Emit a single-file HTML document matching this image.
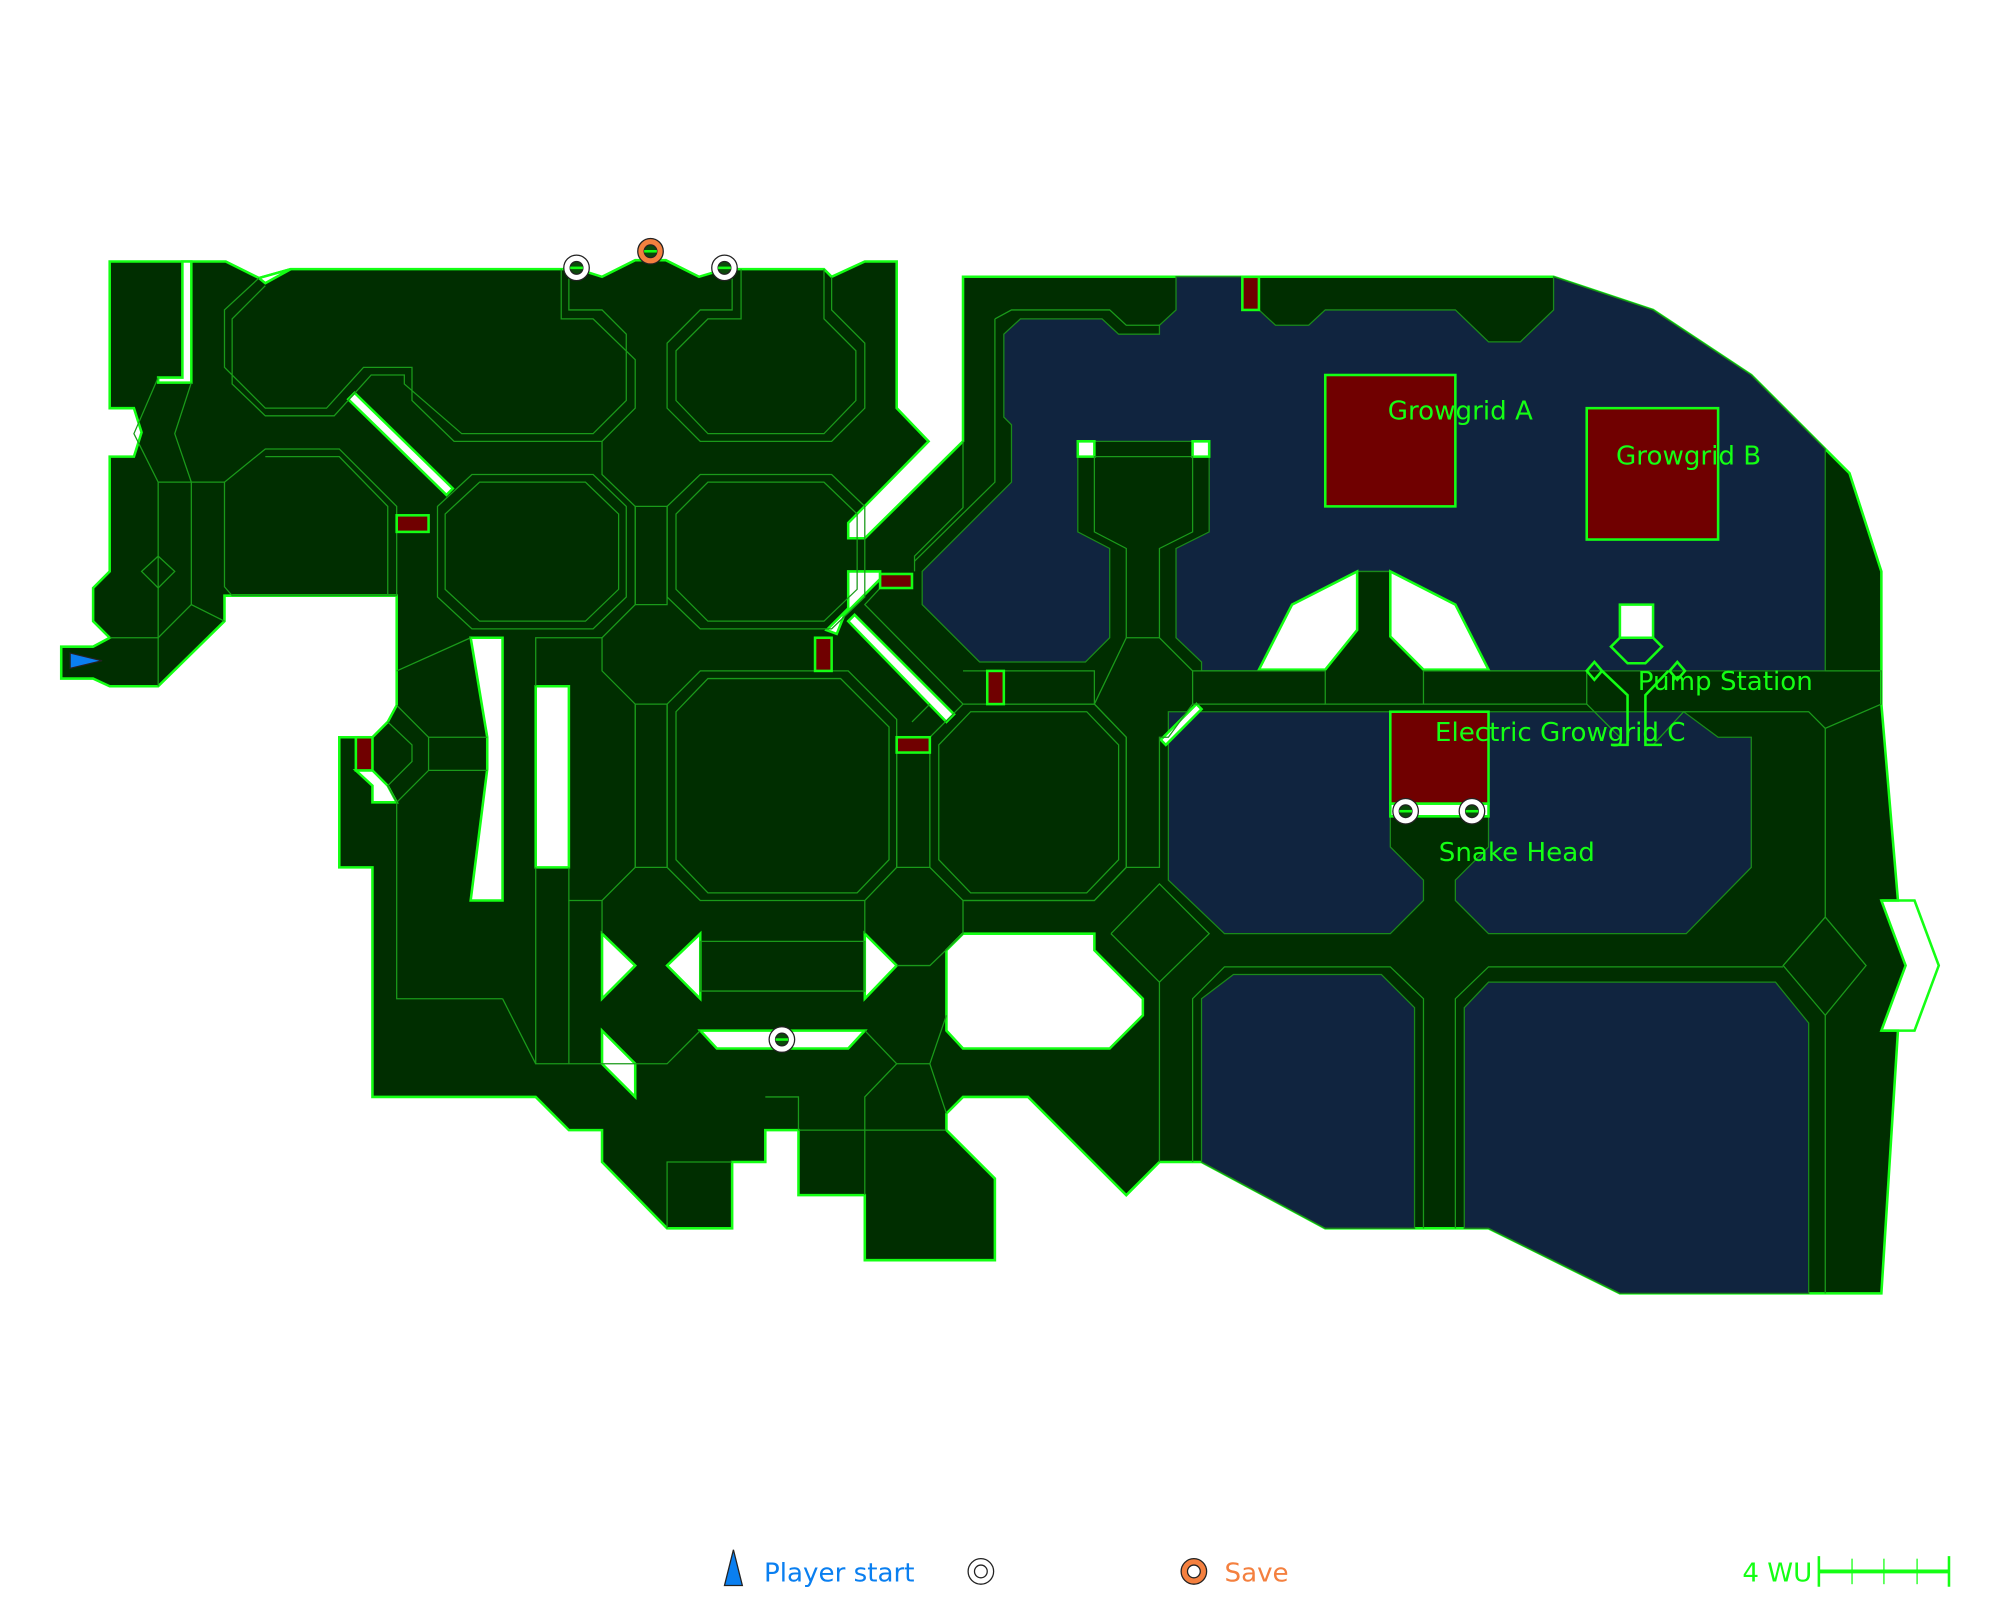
<!DOCTYPE html>
<html><head><meta charset="utf-8"><style>
html,body{margin:0;padding:0;background:#fff;width:2000px;height:1600px;overflow:hidden}
svg{display:block}
text{font-family:"DejaVu Sans","Liberation Sans",sans-serif}
</style></head><body>
<svg width="2000" height="1600" viewBox="0 0 1568 1254.4" xmlns="http://www.w3.org/2000/svg">
<g stroke-linejoin="miter">
<polygon fill="#002e00" stroke="#14ff14" stroke-width="2" points="86,205 177,205 203,218 228,211 440,211 453,211 472,217 498,204 522,204 548,217 568,211 646,211 652,217 678,205 703,205 703,320 728,346 665,410 665,422 678,422 755,346 755,217 1218,217 1296,243 1373,294 1450,371 1475,448 1475,552 1488,706 1475,706 1494,757 1475,808 1488,808 1475,1014 1270,1014 1167,963 1039,963 942,911 909,911 883,937 806,860 755,860 742,873 742,886 780,924 780,988 678,988 678,937 626,937 626,886 600,886 600,911 574,911 574,963 523,963 472,911 472,886 446,886 420,860 292,860 292,680 266,680 266,578 292,578 304,566 311,553 311,467 176,467 176,487 124,538 86,538 73,532 48,532 48,507 73,507 86,500 73,487 73,461 86,448 86,358 105,358 111,339 105,320 86,320"/>
<polyline fill="none" stroke="#14ff14" stroke-width="2" points="1475,706 1501,706 1520,757 1501,808 1475,808"/>
<g fill="#10243f" stroke="#1a8a1a" stroke-width="1">
<polygon points="922,217 974,217 974,243 987,243 1000,255 1026,255 1039,243 1141,243 1167,268 1192,268 1218,243 1218,217 1296,243 1373,294 1431,352 1431,526 1244,526 1167,526 1141,474 1090,448 1064,448 1013,474 987,526 942,526 942,519 922,500 922,430 948,417 948,346 845,346 845,417 870,430 870,500 851,519 768,519 723,474 723,448 793,378 793,333 787,327 787,262 800,250 864,250 877,262 909,262 909,255 922,243"/>
<polygon points="916,558 1320,558 1347,578 1373,578 1373,680 1322,732 1167,732 1141,706 1141,690 1167,664 1167,640 1090,640 1090,664 1116,690 1116,706 1090,732 960,732 916,690"/>
<polygon points="942,783 967,764 1083,764 1109,790 1109,963 1039,963 942,911"/>
<polygon points="1148,790 1167,770 1392,770 1418,802 1418,1014 1270,1014 1167,963 1148,963"/>
</g>
<g fill="#fff" stroke="#14ff14" stroke-width="2">
<polygon points="143,205 150,205 150,300 124,300 124,296 143,296"/>
<polygon points="273,313 278,308 355,383 350,388"/>
<polygon points="369,500 394,500 394,706 369,706 382,603 382,578"/>
<polygon points="420,538 446,538 446,680 420,680"/>
<polygon points="665,448 690,448 690,454 662,482 656,497 648,494 665,477"/>
<polygon points="665,487 670,482 748,560 742,566"/>
<polygon points="910,580 938,552 942,556 914,584"/>
<polygon points="472,732 498,757 472,783"/>
<polygon points="549,732 523,757 549,783"/>
<polygon points="678,732 703,757 678,783"/>
<polygon points="549,808 678,808 665,822 562,822"/>
<polygon points="472,808 498,834 498,860 472,834"/>
<polygon points="742,745 755,732 858,732 858,745 896,783 896,796 870,822 755,822 742,808"/>
<polygon points="279,604 292,604 304,616 311,629 292,629 292,616"/>
<polygon points="845,346 858,346 858,358 845,358"/>
<polygon points="935,346 948,346 948,358 935,358"/>
<polygon points="987,525 1013,474 1064,448 1064,494 1039,525"/>
<polygon points="1090,448 1141,474 1167,525 1116,525 1090,499"/>
<polygon points="1270,474 1296,474 1296,500 1270,500"/>
<polygon points="1090,630 1167,630 1167,640 1090,640"/>
<polygon points="203,218 208,222 228,211"/>
</g>
<g fill="none" stroke="#1a9a1a" stroke-width="1">
<polygon points="370,372 465,372 491,397 491,468 465,493 370,493 343,468 343,397"/>
<polygon points="376,378 459,378 485,403 485,462 459,487 376,487 349,462 349,403"/>
<polygon points="549,372 652,372 678,397 678,468 652,493 549,493 523,468 523,397"/>
<polygon points="555,378 646,378 672,403 672,462 646,487 555,487 530,462 530,403"/>
<polygon points="549,526 665,526 703,564 703,680 678,706 549,706 523,680 523,552"/>
<polygon points="555,532 659,532 697,570 697,674 672,700 555,700 530,674 530,558"/>
<polygon points="755,552 858,552 883,578 883,680 858,706 755,706 729,680 729,578"/>
<polygon points="761,558 852,558 877,584 877,674 852,700 761,700 736,674 736,584"/>
<polygon points="208,352 266,352 311,397 311,467 182,467 176,460 176,378"/>
<polyline points="208,358 266,358 304,397 304,467"/>
<polyline points="581,211 581,250 555,250 530,275 530,314 555,340 646,340 671,314 671,275 646,250 646,211"/>
<polyline points="574,211 574,243 549,243 523,269 523,320 549,346 652,346 678,320 678,269 652,243 652,217"/>
<polyline points="440,211 440,250 465,250 498,282 498,320 472,346 356,346 323,314 323,288 285,288 256,320 208,320 176,288 176,243 203,218"/>
<polyline points="446,211 446,243 472,243 491,262 491,314 465,340 362,340 317,301 317,294 291,294 262,326 208,326 182,301 182,250 208,224"/>
<polyline points="472,346 472,372 498,397 498,474 472,500 472,526 498,552 498,680 472,706 472,732"/>
<polyline points="523,397 523,474 498,474 498,397 523,397"/>
<polyline points="523,552 523,680 498,680 498,552 523,552"/>
<polyline points="472,500 420,500 420,538"/>
<polyline points="446,680 446,706 472,706"/>
<polyline points="420,680 420,834 498,834"/>
<polyline points="446,706 446,834"/>
<polyline points="394,783 311,783 311,629"/>
<polyline points="394,783 420,834"/>
<polyline points="311,526 369,500"/>
<polyline points="311,553 336,578 336,604 311,629 304,616 323,597 323,584 304,566"/>
<polyline points="336,578 382,578"/>
<polyline points="336,604 382,604"/>
<polyline points="124,296 105,340 124,378 124,500 86,500"/>
<polyline points="150,300 137,340 150,378 150,474 176,487"/>
<polyline points="124,378 176,378"/>
<polyline points="124,500 150,474"/>
<polyline points="124,436 137,448 124,461 111,448 124,436"/>
<polyline points="124,500 124,538"/>
<polyline points="549,738 678,738 678,777 549,777 549,738"/>
<polyline points="678,706 678,732"/>
<polyline points="703,757 729,757 755,732 755,706 858,706 883,680"/>
<polyline points="498,834 523,834 549,808"/>
<polyline points="678,808 703,834 729,834 742,796"/>
<polyline points="703,834 678,860 678,937"/>
<polyline points="729,834 742,873"/>
<polyline points="523,963 523,911 574,911"/>
<polyline points="600,860 626,860 626,886"/>
<polyline points="626,886 742,886"/>
<polyline points="755,526 858,526 858,552"/>
<polyline points="787,552 858,552 883,500 909,500 935,526 935,552 916,578 909,578 909,680 883,680 883,578 858,552"/>
<polyline points="883,500 883,430 858,417 858,358 935,358 935,417 909,430 909,500"/>
<polyline points="935,526 1039,526 1039,552 1116,552 1116,526 1244,526 1244,552 1116,552"/>
<polyline points="935,552 1039,552"/>
<polyline points="1431,526 1475,526 1475,552 1431,571 1418,558 1320,558 1296,584"/>
<polyline points="1244,552 1270,578"/>
<polyline points="1431,571 1431,719 1398,757 1431,796 1463,757 1431,719"/>
<polyline points="1431,796 1431,1014"/>
<polyline points="871,732 909,693 948,732 909,770 871,732"/>
<polyline points="909,770 909,911"/>
<polyline points="935,911 935,783 960,758 1090,758 1116,783 1116,963"/>
<polyline points="1141,963 1141,783 1167,758 1398,758"/>
<polyline points="703,578 703,680 729,680"/>
<polyline points="715,566 729,552"/>
<polyline points="690,461 678,474 755,552"/>
<polyline points="717,448 717,436 755,398 755,346"/>
<polyline points="780,250 793,243 870,243 883,255 909,255"/>
<polyline points="780,250 780,378 717,440"/>
</g>
<g fill="none" stroke="#14ff14" stroke-width="2">
<polyline points="1256,526 1276,545 1276,584 1263,584"/>
<polyline points="1308,526 1290,545 1290,584 1303,584"/>
<polygon points="1270,500 1296,500 1303,507 1290,520 1276,520 1263,507"/>
<polygon points="1250,519 1256,526 1250,533 1244,526"/>
<polygon points="1315,519 1321,526 1315,533 1309,526"/>
</g>
<g fill="#700000" stroke="#14ff14" stroke-width="2">
<rect x="1039" y="294" width="102" height="103"/>
<rect x="1244" y="320" width="103" height="103"/>
<rect x="1090" y="558" width="77" height="72"/>
<rect x="311" y="404" width="25" height="13"/>
<rect x="279" y="578" width="13" height="26"/>
<rect x="639" y="500" width="13" height="26"/>
<rect x="690" y="450" width="25" height="11"/>
<rect x="774" y="526" width="13" height="26"/>
<rect x="703" y="578" width="26" height="12"/>
<rect x="974" y="217" width="13" height="26"/>
</g>
<g fill="#14ff14" font-size="20.5">
<text x="1088" y="329">Growgrid A</text>
<text x="1267" y="364">Growgrid B</text>
<text x="1284" y="541">Pump Station</text>
<text x="1125" y="581">Electric Growgrid C</text>
<text x="1128" y="675">Snake Head</text>
</g>
<g stroke="#222" stroke-width="1">
<g fill="#fff"><circle cx="452" cy="210" r="10"/><circle cx="568" cy="210" r="10"/><circle cx="613" cy="815" r="10"/><circle cx="1102" cy="636" r="10"/><circle cx="1154" cy="636" r="10"/></g>
<circle cx="510" cy="197" r="10" fill="#f4803f"/>
<g fill="#0a4a0a"><circle cx="452" cy="210" r="5"/><circle cx="568" cy="210" r="5"/><circle cx="613" cy="815" r="5"/><circle cx="1102" cy="636" r="5"/><circle cx="1154" cy="636" r="5"/><circle cx="510" cy="197" r="5"/></g>
<g stroke="#14ff14" stroke-width="2"><line x1="447" y1="210" x2="457" y2="210"/><line x1="563" y1="210" x2="573" y2="210"/><line x1="608" y1="815" x2="618" y2="815"/><line x1="1097" y1="636" x2="1107" y2="636"/><line x1="1149" y1="636" x2="1159" y2="636"/><line x1="505" y1="197" x2="515" y2="197"/></g>
<polygon points="55,512 80,518 55,524" fill="#0a7ff0"/>
</g>
<polygon points="575,1215 582,1243 568,1243" fill="#0a7ff0" stroke="#222" stroke-width="1"/>
<text x="599" y="1240" font-size="20.5" fill="#0a7ff0">Player start</text>
<circle cx="769" cy="1232" r="10" fill="#fff" stroke="#222" stroke-width="1"/>
<circle cx="769" cy="1232" r="5" fill="#fff" stroke="#222" stroke-width="1"/>
<circle cx="936" cy="1232" r="10" fill="#f4803f" stroke="#222" stroke-width="1"/>
<circle cx="936" cy="1232" r="5" fill="#fff" stroke="#222" stroke-width="1"/>
<text x="960" y="1240" font-size="20.5" fill="#f4803f">Save</text>
<text x="1366" y="1240" font-size="20.5" fill="#14ff14">4 WU</text>
<g stroke="#14ff14" stroke-width="2">
<line x1="1426" y1="1232" x2="1528" y2="1232" stroke-width="3"/>
<line x1="1426" y1="1220" x2="1426" y2="1244"/>
<line x1="1452" y1="1222" x2="1452" y2="1242" stroke-width="1"/>
<line x1="1477" y1="1222" x2="1477" y2="1242" stroke-width="1"/>
<line x1="1503" y1="1222" x2="1503" y2="1242" stroke-width="1"/>
<line x1="1528" y1="1220" x2="1528" y2="1244"/>
</g>
</g>
</svg>
</body></html>
